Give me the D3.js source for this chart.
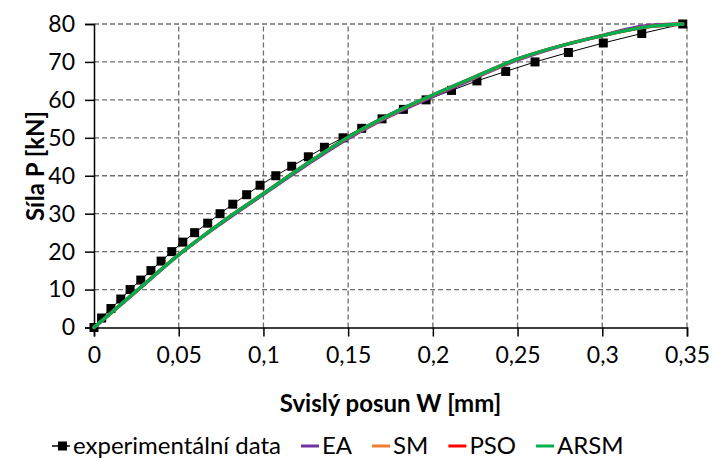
<!DOCTYPE html>
<html>
<head>
<meta charset="utf-8">
<script src="https://cdn.jsdelivr.net/npm/d3@7"></script>
<style>
  html, body { margin: 0; padding: 0; background: #fff; }
  svg { display: block; font-family: Lato, "Open Sans", sans-serif; }
</style>
</head>
<body>
<svg id="chart" width="713" height="461"></svg>
<script>
// Experimental load–deflection data (W in mm, P in kN)
const expW = [0, 0.0045, 0.010, 0.0158, 0.0213, 0.0276, 0.0336, 0.0396, 0.0459, 0.0524,
              0.0594, 0.0671, 0.0744, 0.0819, 0.0901, 0.0980, 0.1073, 0.1167, 0.1265, 0.1360,
              0.1470, 0.1580, 0.1700, 0.1826, 0.1960, 0.2110, 0.2260, 0.2430, 0.2603, 0.2800,
              0.3006, 0.3233, 0.3475];
const expP = [0, 2.5, 5, 7.5, 10, 12.5, 15, 17.5, 20, 22.5,
              25, 27.5, 30, 32.5, 35, 37.5, 40, 42.5, 45, 47.5,
              50, 52.5, 55, 57.5, 60, 62.5, 65, 67.5, 70, 72.5,
              75, 77.5, 80];

// Numerical model curves (identified parameters by each optimisation method)
const modelW = [0, 0.025, 0.05, 0.075, 0.1, 0.125, 0.15, 0.175, 0.2, 0.225, 0.25, 0.275, 0.3, 0.325, 0.3475];
const eaP    = [0, 9.5, 19.1, 27.4, 35.1, 42.7, 49.8, 55.8, 60.9, 65.8, 70.5, 74.1, 77.0, 79.5, 80];
const smP    = [0, 9.6, 19.2, 27.6, 35.3, 43.0, 50.1, 56.1, 61.2, 66.0, 70.7, 74.2, 76.9, 79.2, 80];
const psoP   = [0, 9.6, 19.2, 27.6, 35.3, 43.0, 50.2, 56.2, 61.3, 66.1, 70.8, 74.2, 76.9, 79.2, 80];
const arsmP  = [0, 9.6, 19.2, 27.6, 35.3, 43.0, 50.2, 56.2, 61.3, 66.1, 70.8, 74.2, 76.9, 79.2, 80];

const xTicks = [0, 0.05, 0.1, 0.15, 0.2, 0.25, 0.3, 0.35];
const yTicks = [0, 10, 20, 30, 40, 50, 60, 70, 80];

const seriesNames  = ["experimentální data", "EA", "SM", "PSO", "ARSM"];
const seriesColors = ["#000000", "#7030A0", "#ED7D31", "#FF0000", "#00B050"];

const xTitle = "Svislý posun W [mm]";
const yTitle = "Síla P [kN]";

// ---------------------------------------------------------------
const svg = d3.select("#chart");
const margin = { left: 94, right: 26, top: 24, bottom: 133.5 };
const W = 713, H = 461;
const plotW = W - margin.left - margin.right;
const plotH = H - margin.top - margin.bottom;

const x = d3.scaleLinear().domain([0, 0.35]).range([margin.left, margin.left + plotW]);
const y = d3.scaleLinear().domain([0, 80]).range([margin.top + plotH, margin.top]);

const cz = d3.formatLocale({ decimal: ",", thousands: " ", grouping: [3], currency: ["", " Kč"] });
const fmtX = cz.format("~g");

// gridlines
const grid = svg.append("g").attr("stroke", "#6f6f6f").attr("stroke-width", 1.3)
  .attr("stroke-dasharray", "5,3").attr("fill", "none");
grid.selectAll("line.h").data(yTicks.filter(d => d > 0)).join("line")
  .attr("x1", x(0)).attr("x2", x(0.35))
  .attr("y1", d => y(d)).attr("y2", d => y(d));
grid.selectAll("line.v").data(xTicks.filter(d => d > 0)).join("line")
  .attr("y1", y(0)).attr("y2", y(80))
  .attr("x1", d => x(d)).attr("x2", d => x(d));

// axes
const xAxis = d3.axisBottom(x).tickValues(xTicks).tickFormat(fmtX).tickSize(9).tickPadding(10);
const yAxis = d3.axisLeft(y).tickValues(yTicks).tickFormat(d3.format("d")).tickSize(9).tickPadding(10);

const gx = svg.append("g").attr("transform", `translate(0,${y(0)})`).call(xAxis);
const gy = svg.append("g").attr("transform", `translate(${x(0)},0)`).call(yAxis);
[gx, gy].forEach(g => {
  g.select(".domain").attr("stroke", "#000").attr("stroke-width", 1.5);
  g.selectAll(".tick line").attr("stroke", "#000").attr("stroke-width", 1.5);
  g.selectAll(".tick text").attr("fill", "#000").style("font-size", "23px")
    .style("font-family", "Lato, sans-serif");
});

// experimental series: thin line + square markers
const line = d3.line().x(d => x(d[0])).y(d => y(d[1]));
const expPts = expW.map((w, i) => [w, expP[i]]);
svg.append("path").datum(expPts).attr("d", line)
  .attr("fill", "none").attr("stroke", "#000").attr("stroke-width", 1);
const sq = 9;
svg.append("g").selectAll("rect").data(expPts).join("rect")
  .attr("x", d => x(d[0]) - sq / 2).attr("y", d => y(d[1]) - sq / 2)
  .attr("width", sq).attr("height", sq).attr("fill", "#000");

// model curves
const curve = d3.line().x(d => x(d[0])).y(d => y(d[1])).curve(d3.curveMonotoneX);
const models = [eaP, smP, psoP, arsmP];
models.forEach((vals, k) => {
  svg.append("path").datum(modelW.map((w, i) => [w, vals[i]])).attr("d", curve)
    .attr("fill", "none").attr("stroke", seriesColors[k + 1])
    .attr("stroke-width", 3.3).attr("stroke-linejoin", "round").attr("stroke-linecap", "round");
});

// axis titles
svg.append("text").attr("x", (x(0) + x(0.35)) / 2).attr("y", 412)
  .attr("text-anchor", "middle").style("font-weight", "bold").style("font-size", "24px")
  .text(xTitle);
svg.append("text").attr("transform", `translate(44,166) rotate(-90)`)
  .attr("text-anchor", "middle").style("font-weight", "bold").style("font-size", "24px")
  .text(yTitle);

// legend
const leg = svg.append("g").attr("transform", "translate(0,446)");
let cx = 52;
seriesNames.forEach((name, k) => {
  const it = leg.append("g");
  it.append("line").attr("x1", cx).attr("x2", cx + 18).attr("y1", 0).attr("y2", 0)
    .attr("stroke", seriesColors[k]).attr("stroke-width", k === 0 ? 1.5 : 3);
  if (k === 0) {
    it.append("rect").attr("x", cx + 6).attr("y", -4.5).attr("width", 9).attr("height", 9).attr("fill", "#000");
  }
  const t = it.append("text").attr("x", cx + 21).attr("y", 0).attr("dy", "0.35em")
    .style("font-size", "24px").text(name);
  cx += 21 + t.node().getComputedTextLength() + 20;
});
</script>
</body>
</html>
